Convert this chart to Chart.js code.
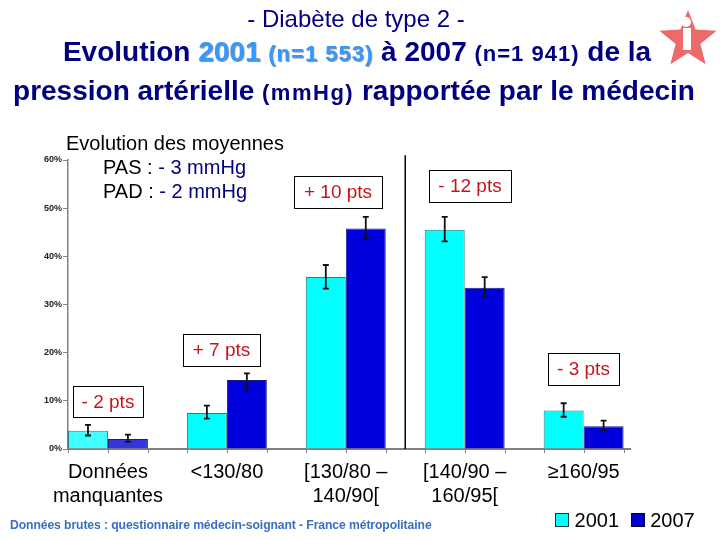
<!DOCTYPE html>
<html>
<head>
<meta charset="utf-8">
<script src="https://cdn.jsdelivr.net/npm/chart.js@4.4.1/dist/chart.umd.min.js"></script>
<style>
  body { margin: 0; background: #fff; font-family: Arial, "Liberation Sans", sans-serif; }
  #wrap { position: relative; width: 720px; height: 540px; overflow: hidden; }
  #chart { position: absolute; left: 0; top: 0; }
  .txt { position: absolute; white-space: nowrap; }
  .navy { color: #000080; }
  .sky { color: #3399ff; text-shadow: 1px 1px 1px #8a8a8a; }
  .small { font-size: 22px; letter-spacing: 1px; }
</style>
</head>
<body>
<div id="wrap">
  <canvas id="chart" width="720" height="540"></canvas>

  <div class="txt navy" style="left:0;width:712px;text-align:center;top:5px;font-size:24px;">- Diabète de type 2 -</div>
  <div class="txt navy" style="left:0;width:714px;text-align:center;top:36px;font-size:28px;font-weight:bold;">
    Evolution <span class="sky">2001</span> <span class="sky small">(n=1 553)</span> à 2007 <span class="small">(n=1 941)</span> de la
  </div>
  <div class="txt navy" style="left:0;width:708px;text-align:center;top:75px;font-size:28px;font-weight:bold;">
    pression artérielle <span class="small" style="letter-spacing:1.5px;">(mmHg)</span> rapportée par le médecin
  </div>

  <div class="txt" style="left:66px;top:132px;font-size:20px;">Evolution des moyennes</div>
  <div class="txt" style="left:103px;top:156px;font-size:20px;">PAS : <span class="navy">- 3 mmHg</span></div>
  <div class="txt" style="left:103px;top:180px;font-size:20px;">PAD : <span class="navy">- 2 mmHg</span></div>

  <div class="txt" style="left:10px;top:518px;font-size:12.2px;font-weight:bold;color:#3a6fc4;letter-spacing:-0.1px;">Données brutes : questionnaire médecin-soignant - France métropolitaine</div>

  <div class="txt" style="left:555px;top:509px;font-size:20px;">
    <span style="display:inline-block;width:12px;height:12px;background:#00ffff;border:1px solid #004040;vertical-align:0px;"></span> 2001
    <span style="display:inline-block;width:12px;height:12px;background:#0000cc;border:1px solid #000040;vertical-align:0px;margin-left:6px;"></span> 2007
  </div>
</div>

<script>
const categories = [['Données', 'manquantes'], '<130/80', ['[130/80 –', '140/90['], ['[140/90 –', '160/95['], '≥160/95']
const values2001 = [3.8, 7.5, 35.7, 45.5, 8.0]
const values2007 = [2.1, 14.3, 45.8, 33.5, 4.7]
const errLow2001 = [2.8, 6.3, 33.3, 43.1, 6.7]
const errHigh2001 = [5.0, 9.0, 38.2, 48.2, 9.5]
const errLow2007 = [1.5, 12.4, 43.6, 31.5, 3.9]
const errHigh2007 = [3.0, 15.7, 48.2, 35.7, 5.9]
const yTicks = [0, 10, 20, 30, 40, 50, 60]

// boxes with the change in points, page coordinates
const notes = [
  { text: '- 2 pts', x: 73, y: 386, w: 70, h: 31 },
  { text: '+ 7 pts', x: 183, y: 334, w: 77, h: 32 },
  { text: '+ 10 pts', x: 294, y: 176, w: 88, h: 32 },
  { text: '- 12 pts', x: 429, y: 170, w: 82, h: 32 },
  { text: '- 3 pts', x: 548, y: 353, w: 71, h: 32 }
]

const asPoints = arr => arr.map((v, i) => ({ x: i, y: v }))

const extras = {
  id: 'extras',
  afterDatasetsDraw(chart) {
    const ctx = chart.ctx
    const xs = chart.scales.x
    const ys = chart.scales.y

    // divider between the 2nd and 3rd class
    ctx.save()
    ctx.strokeStyle = '#000'
    ctx.lineWidth = 1.5
    ctx.beginPath()
    ctx.moveTo(xs.getPixelForValue(2.5), ys.getPixelForValue(61))
    ctx.lineTo(xs.getPixelForValue(2.5), ys.getPixelForValue(0))
    ctx.stroke()

    // error bars
    const sets = [[errLow2001, errHigh2001], [errLow2007, errHigh2007]]
    sets.forEach((pair, d) => {
      const meta = chart.getDatasetMeta(d)
      meta.data.forEach((bar, i) => {
        const x = bar.x
        const y1 = ys.getPixelForValue(pair[0][i])
        const y2 = ys.getPixelForValue(pair[1][i])
        ctx.strokeStyle = '#111'
        ctx.lineWidth = 1.8
        ctx.beginPath()
        ctx.moveTo(x, y1); ctx.lineTo(x, y2)
        ctx.moveTo(x - 3, y1); ctx.lineTo(x + 3, y1)
        ctx.moveTo(x - 3, y2); ctx.lineTo(x + 3, y2)
        ctx.stroke()
      })
    })

    // little ticks under the axis at each bar edge
    ctx.strokeStyle = '#808080'
    ctx.lineWidth = 1
    chart.getDatasetMeta(0).data.forEach((bar, i) => {
      const other = chart.getDatasetMeta(1).data[i]
      const edges = [bar.x - bar.width / 2, bar.x + bar.width / 2, other.x + other.width / 2]
      edges.forEach(ex => {
        ctx.beginPath()
        ctx.moveTo(Math.round(ex) + 0.5, ys.bottom)
        ctx.lineTo(Math.round(ex) + 0.5, ys.bottom + 4)
        ctx.stroke()
      })
    })

    // note boxes
    ctx.font = '19px Arial, "Liberation Sans", sans-serif'
    ctx.textAlign = 'center'
    ctx.textBaseline = 'middle'
    notes.forEach(n => {
      ctx.fillStyle = '#fff'
      ctx.fillRect(n.x, n.y, n.w, n.h)
      ctx.strokeStyle = '#000'
      ctx.lineWidth = 1
      ctx.strokeRect(n.x + 0.5, n.y + 0.5, n.w, n.h)
      ctx.fillStyle = '#c8141c'
      ctx.fillText(n.text, n.x + n.w / 2, n.y + n.h / 2 + 1)
    })

    // logo, rough star
    const cx = 688, cy = 40
    ctx.fillStyle = '#ec6a6a'
    ctx.beginPath()
    for (let k = 0; k < 10; k++) {
      const r = k % 2 === 0 ? 30 : 13
      const a = -Math.PI / 2 + k * Math.PI / 5
      ctx.lineTo(cx + r * Math.cos(a), cy + r * Math.sin(a))
    }
    ctx.closePath()
    ctx.fill()
    ctx.fillStyle = '#fff'
    ctx.beginPath()
    ctx.arc(cx - 2, cy - 18, 5, 0, Math.PI * 2)
    ctx.fill()
    ctx.fillRect(cx - 5, cy - 12, 8, 22)
    ctx.restore()
  }
}

new Chart(document.getElementById('chart'), {
  type: 'bar',
  data: {
    datasets: [{
      label: '2001',
      data: asPoints(values2001),
      backgroundColor: ['#40ffff', '#00ffff', '#00ffff', '#00ffff', '#00ffff'],
      borderColor: '#2a7f7f',
      borderWidth: 1
    },
    {
      label: '2007',
      data: asPoints(values2007),
      backgroundColor: ['#3535dc', '#0000dc', '#0000dc', '#0000dc', '#0000dc'],
      borderColor: '#1a1a80',
      borderWidth: 1
    }]
  },
  options: {
    responsive: false,
    animation: false,
    categoryPercentage: 0.672,
    barPercentage: 1,
    layout: { padding: { left: 0, top: 160, right: 90, bottom: 0 } },
    plugins: {
      legend: { display: false },
      tooltip: { enabled: false }
    },
    scales: {
      x: {
        type: 'linear',
        offset: false,
        min: -0.336,
        max: 4.39,
        afterFit: s => { s.height = 91 },
        grid: { display: false, drawTicks: false, offset: false },
        border: { color: '#808080', width: 2 },
        ticks: {
          stepSize: 1,
          includeBounds: false,
          autoSkip: false,
          maxRotation: 0,
          padding: 11,
          color: '#000',
          font: { family: 'Arial, "Liberation Sans", sans-serif', size: 20, lineHeight: 1.2 },
          callback: v => categories[v]
        }
      },
      y: {
        min: 0,
        max: 60,
        afterFit: s => { s.width = 68 },
        afterBuildTicks: s => { s.ticks = yTicks.map(v => ({ value: v })) },
        grid: { drawOnChartArea: false, color: '#808080', tickLength: 5 },
        border: { color: '#808080', width: 1.5 },
        ticks: {
          padding: 1,
          color: '#222',
          font: { family: 'Arial, "Liberation Sans", sans-serif', size: 9, weight: 'bold' },
          callback: v => v + '%'
        }
      }
    }
  },
  plugins: [extras]
})
</script>
</body>
</html>
